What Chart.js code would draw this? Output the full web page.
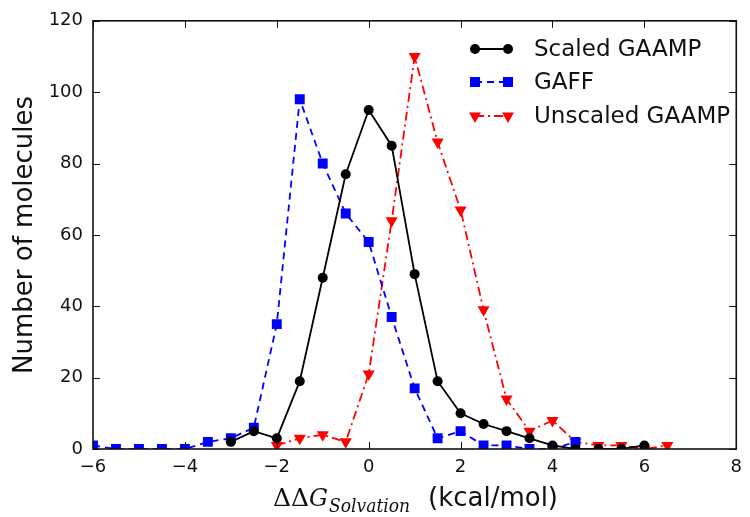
<!DOCTYPE html>
<html>
<head>
<meta charset="utf-8">
<script src="https://cdn.jsdelivr.net/npm/chart.js@4"></script>
<style>
html,body{margin:0;padding:0;background:#fff;}
canvas{display:block;}
</style>
</head>
<body>
<canvas id="c" width="750" height="517"></canvas>
<script>
// ---- data ----
const scaledX   = [-3,-2.5,-2,-1.5,-1,-0.5,0,0.5,1,1.5,2,2.5,3,3.5,4,4.5,5,5.5,6];
const scaledY   = [2,5,3,19,48,77,95,85,49,19,10,7,5,3,1,0,0,0,1];
const gaffX     = [-6,-5.5,-5,-4.5,-4,-3.5,-3,-2.5,-2,-1.5,-1,-0.5,0,0.5,1,1.5,2,2.5,3,3.5,4,4.5];
const gaffY     = [1,0,0,0,0,2,3,6,35,98,80,66,58,37,17,3,5,1,1,0,0,2];
const unscaledX = [-2,-1.5,-1,-0.5,0,0.5,1,1.5,2,2.5,3,3.5,4,4.5,5,5.5,6,6.5];
const unscaledY = [1,3,4,2,21,64,110,86,67,39,14,5,8,2,1,1,0,1];
const seriesNames = ['Scaled GAAMP','GAFF','Unscaled GAAMP'];
const xTicks = [-6,-4,-2,0,2,4,6,8];
const yTicks = [0,20,40,60,80,100,120];

const pts = (xs, ys) => xs.map((v,i)=>({x:v, y:ys[i]}));

function drawMarker(ctx, kind, x, y, color){
  ctx.save();
  ctx.fillStyle = color; ctx.strokeStyle = color; ctx.setLineDash([]);
  ctx.beginPath();
  if (kind === 'circle') { ctx.arc(x, y, 5, 0, Math.PI*2); }
  else if (kind === 'rect') { ctx.rect(x-5, y-5, 10, 10); }
  else { ctx.moveTo(x-6, y-3.5); ctx.lineTo(x+6, y-3.5); ctx.lineTo(x, y+7); ctx.closePath(); }
  ctx.fill();
  ctx.restore();
}

const deco = {
  id: 'deco',
  afterDatasetsDraw(chart){
    const {ctx, chartArea:a, scales:{x, y}} = chart;
    ctx.save();
    ctx.strokeStyle = '#111';
    ctx.setLineDash([]);
    ctx.lineWidth = 1;
    const L = 7;
    xTicks.forEach(v=>{
      const px = Math.round(x.getPixelForValue(v))+0.5;
      ctx.beginPath(); ctx.moveTo(px, a.bottom); ctx.lineTo(px, a.bottom-L);
      ctx.moveTo(px, a.top); ctx.lineTo(px, a.top+L); ctx.stroke();
    });
    yTicks.forEach(v=>{
      const py = Math.round(y.getPixelForValue(v))+0.5;
      ctx.beginPath(); ctx.moveTo(a.left, py); ctx.lineTo(a.left+L, py);
      ctx.moveTo(a.right, py); ctx.lineTo(a.right-L, py); ctx.stroke();
    });
    ctx.lineWidth = 1.6;
    ctx.strokeRect(a.left, a.top, a.right-a.left, a.bottom-a.top);
    ctx.restore();
  },
  afterDraw(chart){
    const {ctx, chartArea:a} = chart;
    // legend
    const rows = [
      {name: seriesNames[0], color:'#000000', kind:'circle', dash:[]},
      {name: seriesNames[1], color:'#0000ff', kind:'rect', dash:[7,5]},
      {name: seriesNames[2], color:'#ff0000', kind:'tri', dash:[9,4,2,4]}
    ];
    const x1 = 475, x2 = 508, tx = 534;
    const ys = [49, 82, 116];
    rows.forEach((r,i)=>{
      ctx.save();
      ctx.strokeStyle = r.color; ctx.lineWidth = 1.8; ctx.setLineDash(r.dash);
      ctx.beginPath(); ctx.moveTo(x1, ys[i]); ctx.lineTo(x2, ys[i]); ctx.stroke();
      ctx.restore();
      drawMarker(ctx, r.kind, x1, ys[i], r.color);
      drawMarker(ctx, r.kind, x2, ys[i], r.color);
      ctx.save();
      ctx.fillStyle = '#111';
      ctx.font = '23px "DejaVu Sans"';
      ctx.textBaseline = 'middle';
      ctx.fillText(r.name, tx, ys[i]+1);
      ctx.restore();
    });
    // y title
    ctx.save();
    ctx.fillStyle = '#111';
    ctx.font = '26px "DejaVu Sans"';
    ctx.translate(32, (a.top+a.bottom)/2);
    ctx.rotate(-Math.PI/2);
    ctx.textAlign = 'center';
    ctx.textBaseline = 'alphabetic';
    ctx.fillText('Number of molecules', 0, 0);
    ctx.restore();
    // x title
    ctx.save();
    ctx.fillStyle = '#111';
    const base = 506;
    let cx = 273;
    ctx.font = '25px "DejaVu Serif"';
    ctx.fillText('ΔΔ', cx, base, 40);
    cx += Math.min(ctx.measureText('ΔΔ').width, 40);
    ctx.font = 'italic 25px "DejaVu Serif"';
    ctx.fillText('G', cx, base, 19);
    cx += Math.min(ctx.measureText('G').width, 19) + 1;
    ctx.font = 'italic 19px "DejaVu Serif"';
    ctx.fillText('Solvation', cx, base+6, 81);
    ctx.font = '26px "DejaVu Sans"';
    ctx.fillText('(kcal/mol)', 428, base);
    ctx.restore();
  }
};

const tickFont = {family:'"DejaVu Sans"', size:18};
new Chart(document.getElementById('c'), {
  type: 'line',
  data: {
    datasets: [
      {label: seriesNames[0], data: pts(scaledX, scaledY), borderColor:'#000', backgroundColor:'#000',
       borderWidth:1.8, pointStyle:'circle', pointRadius:5, pointBorderWidth:0, tension:0, clip:0},
      {label: seriesNames[1], data: pts(gaffX, gaffY), borderColor:'#0000ff', backgroundColor:'#0000ff',
       borderWidth:1.8, borderDash:[7,5], pointStyle:'rect', pointRadius:7, pointBorderWidth:0, tension:0, clip:0},
      {label: seriesNames[2], data: pts(unscaledX, unscaledY), borderColor:'#ff0000', backgroundColor:'#ff0000',
       borderWidth:1.8, borderDash:[9,4,2,4], pointStyle:'triangle', pointRotation:180, pointRadius:7, pointBorderWidth:0, tension:0, clip:0}
    ]
  },
  options: {
    responsive:false, animation:false, devicePixelRatio:1,
    layout:{padding:{left:0, right:11, top:19, bottom:0}},
    plugins:{legend:{display:false}, tooltip:{enabled:false}},
    scales:{
      x:{type:'linear', min:-6, max:8,
         afterBuildTicks(s){ s.ticks = xTicks.map(v=>({value:v})); },
         ticks:{font:tickFont, color:'#111', padding:8, maxRotation:0,
                callback:v=>String(v).replace('-', '\u2212')},
         grid:{display:false, drawTicks:false}, border:{display:false},
         afterFit(s){ s.height = 68; }},
      y:{min:0, max:120,
         afterBuildTicks(s){ s.ticks = yTicks.map(v=>({value:v})); },
         ticks:{font:tickFont, color:'#111', padding:10},
         grid:{display:false, drawTicks:false}, border:{display:false},
         afterFit(s){ s.width = 93; }}
    }
  },
  plugins:[deco]
});
</script>
</body>
</html>
